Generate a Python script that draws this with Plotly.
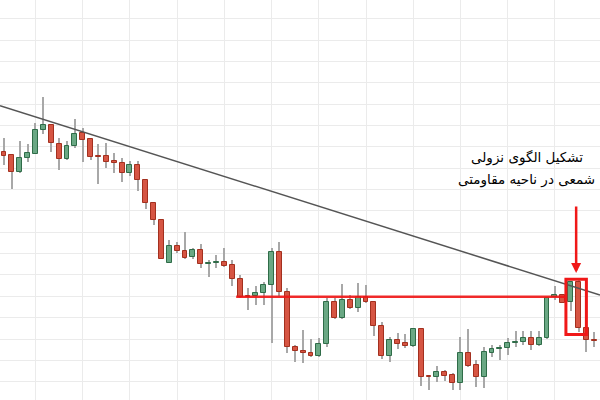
import plotly.graph_objects as go

# candle index
idx = list(range(76))
opens = [248.5, 244.7, 228, 242.3, 246.3, 269.7, 274.7, 256.3, 240.7, 254,
         266.7, 260.7, 243.8, 244, 239, 236.7, 227.3, 235, 220, 196.7,
         180, 137, 154, 149, 142.7, 150, 136, 137, 138.3, 134.7,
         120.7, 104, 104, 107.3, 115, 147.7, 108.3, 52.7, 49, 46.7,
         43.7, 56, 98, 82, 99.7, 91.7, 103.3, 98, 74.3, 44,
         60, 56.7, 54.3, 70.8, 23.8, 22.7, 27.7, 25, 17.3, 46.7,
         35, 22.7, 47.3, 50.7, 51.7, 57.3, 57.7, 62.3, 55, 62.3,
         103.3, 105.5, 98, 118, 72.5, 60.3]
highs = [262.5, 245, 259, 255.7, 276.7, 302.7, 275, 262.3, 259.3, 281.3,
         272, 261, 256, 256.7, 246.7, 242.3, 239.3, 239.3, 220.5, 198.3,
         180, 160, 158.3, 168.3, 151.7, 156, 140, 145, 152.3, 140,
         125, 112, 114, 118.3, 151.7, 158.3, 111.7, 55, 70, 60.7,
         61.7, 101.7, 101.7, 115.7, 105, 116.7, 114.7, 98.3, 78.3, 63.3,
         67.3, 66.3, 71, 71.7, 24, 34, 30, 27.3, 62.7, 70.7,
         40, 52.7, 55, 55, 61.7, 69.3, 69, 69, 69, 102.5,
         114.5, 106, 119, 120, 76.7, 68.3]
lows = [235, 210.7, 226.7, 238.3, 245.7, 266.3, 247.7, 229.7, 240.5, 251.7,
        238.3, 240, 216, 232.3, 226.7, 218.5, 224.3, 209, 190.7, 175,
        141, 137, 146.7, 140.7, 141.5, 132.3, 123.3, 131.7, 133.3, 114,
        102.5, 90, 95, 95, 56.7, 104, 46.7, 38.3, 36.7, 43,
        43, 52.7, 81, 81.5, 91, 87.7, 96.7, 64.3, 40.7, 38.3,
        51, 52, 53.3, 14.5, 10, 18.3, 19, 10, 10, 33.3,
        13.3, 12, 43, 40, 45, 52.7, 55, 50, 54, 61.5,
        100, 97, 89.3, 68.3, 48.3, 53.3]
closes = [244.5, 228.3, 242, 246.7, 269.7, 275, 256.7, 241, 254, 265.7,
          260, 243.3, 243.2, 238, 236.7, 227.5, 235, 220, 196.7, 180,
          141.3, 153.7, 149, 141.7, 150, 136, 137.3, 138.3, 134.3, 120.7,
          103, 102.7, 107.3, 115, 147.7, 108.3, 52.7, 49, 46.7, 43.7,
          56, 98, 82, 99.7, 91.7, 102.7, 98, 74.3, 44, 60,
          55.7, 54.3, 70.8, 23.3, 22.7, 27.7, 24.3, 17.3, 46.7, 34.3,
          22.7, 48.3, 51, 52.3, 56.7, 58.3, 62.3, 55, 62.3, 102,
          105.5, 97.5, 118, 72.5, 60, 59]

# annotations (price levels / candle indices)
resistance_level = 103.3
resistance_from, resistance_to = 29.5, 71.4
trend_start = (-0.51, 294.3)
trend_end = (75.73, 105.0)
box_x = (71.4, 74.0)
box_y = (65.5, 120.8)
arrow_x, arrow_tip, arrow_tail = 72.7, 127, 195
label_line1 = "تشکیل الگوی نزولی"
label_line2 = "شمعی در ناحیه مقاومتی"

RED_FILL, RED_LINE = "#d65543", "#a3301f"
GREEN_FILL, GREEN_LINE = "#6aa884", "#2f6c48"
WICK = "#a8a8a8"

up = [c >= o for o, c in zip(opens, closes)]
body_base = [min(o, c) for o, c in zip(opens, closes)]
body_h = [max(abs(c - o), 1.0) for o, c in zip(opens, closes)]

fig = go.Figure()
fig.add_trace(go.Bar(
    x=idx, base=lows, y=[h - l for h, l in zip(highs, lows)],
    width=0.13, marker=dict(color=WICK, line=dict(width=0)),
    hoverinfo="skip", showlegend=False))
fig.add_trace(go.Bar(
    x=idx, base=body_base, y=body_h, width=0.62,
    marker=dict(color=[GREEN_FILL if u else RED_FILL for u in up],
                line=dict(color=[GREEN_LINE if u else RED_LINE for u in up], width=1)),
    showlegend=False))

fig.add_shape(type="rect", xref="paper", yref="paper", x0=0.767, x1=1.0,
              y0=1 - 206 / 400, y1=1 - 144 / 400,
              fillcolor="white", line=dict(width=0), layer="between")
fig.add_shape(type="line", x0=trend_start[0], y0=trend_start[1],
              x1=trend_end[0], y1=trend_end[1],
              line=dict(color="#555555", width=1.5))
fig.add_shape(type="line", x0=resistance_from, x1=resistance_to,
              y0=resistance_level, y1=resistance_level,
              line=dict(color="rgba(240,20,20,0.9)", width=2.5))
fig.add_shape(type="rect", x0=box_x[0], x1=box_x[1], y0=box_y[0], y1=box_y[1],
              line=dict(color="#f01818", width=3))
fig.add_annotation(x=arrow_x, y=arrow_tip, ax=arrow_x, ay=arrow_tail,
                   xref="x", yref="y", axref="x", ayref="y", text="",
                   showarrow=True, arrowhead=2, arrowsize=0.8, arrowwidth=2.5,
                   arrowcolor="#f01818")
fig.add_annotation(x=66.4, y=243, text=label_line1, showarrow=False,
                   font=dict(family="DejaVu Sans", size=13.5, color="#000"))
fig.add_annotation(x=66.4, y=221, text=label_line2, showarrow=False,
                   font=dict(family="DejaVu Sans", size=13.5, color="#000"))

fig.update_layout(
    width=600, height=400, margin=dict(l=0, r=0, t=0, b=0),
    plot_bgcolor="white", paper_bgcolor="white", barmode="overlay",
    bargap=0,
    xaxis=dict(range=[-0.51, 75.73], showticklabels=False, zeroline=False,
               showgrid=True, gridcolor="#ebebeb", gridwidth=1, tick0=4, dtick=6,
               ticks=""),
    yaxis=dict(range=[0, 400], showticklabels=False, zeroline=False,
               showgrid=True, gridcolor="#ebebeb", gridwidth=1, tick0=18.3, dtick=21.35,
               ticks=""),
)
fig.write_html("out.html")
